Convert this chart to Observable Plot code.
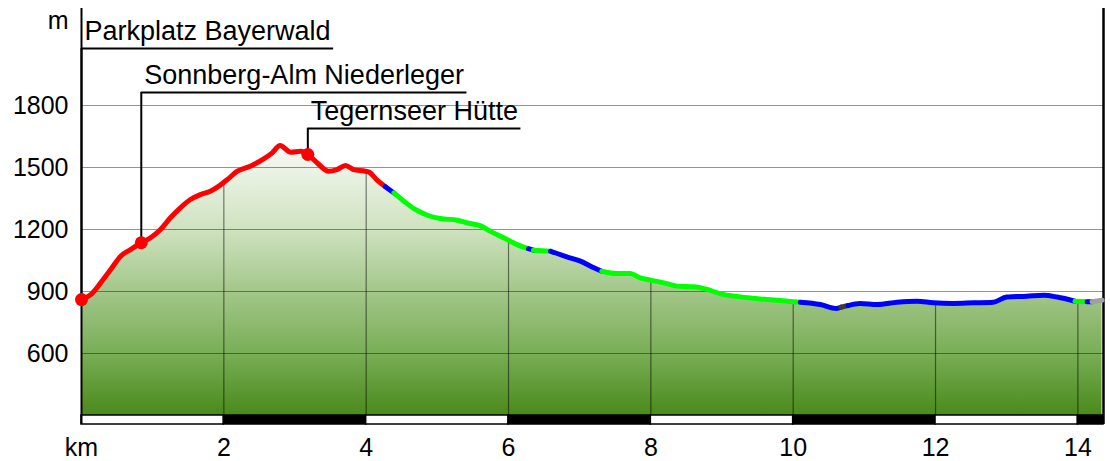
<!DOCTYPE html>
<html>
<head>
<meta charset="utf-8">
<script src="https://cdn.jsdelivr.net/npm/d3@7"></script>
<script src="https://cdn.jsdelivr.net/npm/@observablehq/plot@0.6"></script>
<style>
  html, body { margin: 0; padding: 0; background: #fff; }
  #chart svg { display: block; }
</style>
</head>
<body>
<div id="chart"></div>
<script>
// ---------------- data ----------------
const distanceKm = [
  0.00, 0.13, 0.27, 0.41, 0.55, 0.69, 0.84, 0.97, 1.11, 1.25,
  1.39, 1.53, 1.67, 1.81, 1.93, 2.05, 2.19, 2.37, 2.56, 2.68,
  2.79, 2.94, 3.08, 3.18, 3.31, 3.47, 3.59, 3.71, 3.82, 3.99,
  4.05, 4.15, 4.27, 4.39, 4.53, 4.69, 4.86, 5.04, 5.28, 5.46,
  5.60, 5.74, 5.93, 6.12, 6.28, 6.35, 6.59, 6.82, 7.01, 7.20,
  7.31, 7.52, 7.71, 7.85, 7.99, 8.18, 8.37, 8.60, 8.79, 8.97,
  9.26, 9.54, 9.82, 10.10, 10.38, 10.61, 10.67, 10.77, 10.94, 11.18,
  11.46, 11.74, 11.97, 12.25, 12.53, 12.81, 13.00, 13.28, 13.52, 13.71,
  13.96, 14.13, 14.20, 14.34
];
const elevationM = [
  861, 885, 942, 1006, 1071, 1103, 1136, 1160, 1200, 1257,
  1305, 1345, 1369, 1385, 1410, 1442, 1482, 1506, 1542, 1571,
  1606, 1574, 1579, 1563, 1523, 1482, 1490, 1510, 1490, 1482,
  1476, 1440, 1407, 1377, 1337, 1297, 1269, 1253, 1245, 1229,
  1219, 1192, 1160, 1127, 1107, 1100, 1095, 1068, 1047, 1015,
  998, 987, 987, 966, 955, 942, 926, 923, 910, 890,
  874, 864, 856, 848, 837, 818, 824, 832, 842, 837,
  848, 853, 845, 842, 845, 848, 873, 877, 882, 873,
  853, 850, 850, 858
];
// surface class of the segment that starts at each point
const surfaceType = [
  "red","red","red","red","red","red","red","red","red","red",
  "red","red","red","red","red","red","red","red","red","red",
  "red","red","red","red","red","red","red","red","red","red",
  "red","red","blue","green","green","green","green","green","green","green",
  "green","green","green","green","blue","green","blue","blue","blue","blue",
  "green","green","green","green","green","green","green","green","green","green",
  "green","green","green","blue","blue","blue","dark","blue","blue","blue",
  "blue","blue","blue","blue","blue","blue","blue","blue","blue","blue",
  "green","blue","gray","gray"
];
const waypointNames = ["Parkplatz Bayerwald", "Sonnberg-Alm Niederleger", "Tegernseer Hütte"];
const waypointKm = [0, 0.84, 3.18];

const yTicks = [600, 900, 1200, 1500, 1800];
const xTicks = [0, 2, 4, 6, 8, 10, 12, 14];
const xTickLabels = ["km", "2", "4", "6", "8", "10", "12", "14"];

// ---------------- styling / layout ----------------
const surfaceColor = { red: "#ff0000", green: "#00ff00", blue: "#0000ff", dark: "#3a3a3a", gray: "#a0a0a0" };
const W = 1110, H = 461;
const mLeft = 81, mRight = 7, mTop = 8, mBottom = 37;
const xMax = 14.36;
const yFloor = 300, yMin = 256.45, yMax = 2269.4;
const labelTier = [2076, 1863, 1689];      // elevation level of each label's underline
const FONT = '"Liberation Sans", Arial, Helvetica, sans-serif';
const labelSize = 27;

// ---------------- derived tables ----------------
const profile = distanceKm.map((k, i) => ({ km: k, elev: elevationM[i] }));
const elevAt = d3.scaleLinear().domain(distanceKm).range(elevationM);

// line runs: consecutive segments of the same surface, boundary points shared
const runs = [];
let run = -1;
for (let i = 0; i < distanceKm.length - 1; i++) {
  if (i === 0 || surfaceType[i] !== surfaceType[i - 1]) {
    run++;
    runs.push({ km: distanceKm[i], elev: elevationM[i], run, color: surfaceColor[surfaceType[i]] });
  }
  runs.push({ km: distanceKm[i + 1], elev: elevationM[i + 1], run, color: surfaceColor[surfaceType[i]] });
}

const pxPerKm = (W - mLeft - mRight) / xMax;
const ctx = document.createElement("canvas").getContext("2d");
ctx.font = `${labelSize}px ${FONT}`;
const waypoints = waypointNames.map((name, i) => {
  const w = ctx.measureText(name).width;
  return {
    name, km: waypointKm[i], elev: elevAt(waypointKm[i]), tier: labelTier[i],
    end: waypointKm[i] + (w + 6) / pxPerKm
  };
});

const barEdges = [...xTicks, xMax];
const bars = xTicks.map((k, i) => ({ x1: k, x2: barEdges[i + 1], fill: i % 2 ? "#000" : "#fff" }));

// ---------------- plot ----------------
const plot = Plot.plot({
  width: W, height: H,
  marginLeft: mLeft, marginRight: mRight, marginTop: mTop, marginBottom: mBottom,
  style: { fontFamily: FONT, fontSize: "25px", background: "#fff", color: "#000", overflow: "visible" },
  x: { domain: [0, xMax], ticks: xTicks, tickFormat: d => xTickLabels[xTicks.indexOf(d)], tickSize: 0, tickPadding: 14, label: null },
  y: { domain: [yMin, yMax], ticks: yTicks, tickFormat: d => String(d), tickSize: 0, tickPadding: 13, label: null },
  color: { type: "identity" },
  marks: [
    Plot.areaY(profile, { x: "km", y1: yFloor, y2: "elev", fill: "url(#profileGrad)", curve: "monotone-x" }),
    Plot.ruleY(yTicks, { stroke: "#000", strokeOpacity: 0.42, strokeWidth: 1.2 }),
    Plot.ruleX(xTicks.filter(d => d > 0), { x: d => d, y1: yFloor, y2: d => elevAt(d), stroke: "#000", strokeOpacity: 0.5, strokeWidth: 1.2 }),
    Plot.rect(bars, { x1: "x1", x2: "x2", y1: yMin, y2: yFloor, fill: "fill", stroke: "#000", strokeWidth: 1.5 }),
    Plot.ruleX([0], { y1: yMin, y2: yMax, stroke: "#000", strokeWidth: 2 }),
    Plot.ruleX([xMax], { y1: yMin, y2: yMax, stroke: "#000", strokeWidth: 2.5 }),
    Plot.ruleX(waypoints, { x: "km", y1: "elev", y2: "tier", stroke: "#000", strokeWidth: 2 }),
    Plot.ruleY(waypoints, { y: "tier", x1: "km", x2: "end", stroke: "#000", strokeWidth: 2 }),
    Plot.text(waypoints, { x: "km", y: "tier", text: "name", textAnchor: "start", lineAnchor: "bottom", dx: 3, dy: -8, fontSize: labelSize, fill: "#000" }),
    Plot.line(runs, { x: "km", y: "elev", z: "run", stroke: "color", strokeWidth: 5, strokeLinecap: "round", strokeLinejoin: "round", curve: "monotone-x" }),
    Plot.dot(waypoints, { x: "km", y: "elev", r: 6.5, fill: "#ff0000", stroke: "none" }),
    Plot.text(["m"], { frameAnchor: "top-left", text: d => d, textAnchor: "end", lineAnchor: "bottom", dx: -13, dy: 20, fontSize: 25, fill: "#000" })
  ]
});

// gradient for the profile fill
const defs = d3.select(plot).insert("defs", ":first-child");
const grad = defs.append("linearGradient").attr("id", "profileGrad").attr("x1", 0).attr("y1", 0).attr("x2", 0).attr("y2", 1);
[[0, "#f8fbf5"], [0.31, "#cfe2c0"], [0.54, "#a3c78a"], [0.77, "#79ae56"], [1, "#4a8a1c"]]
  .forEach(([o, c]) => grad.append("stop").attr("offset", o).attr("stop-color", c));

document.getElementById("chart").append(plot);
</script>
</body>
</html>
